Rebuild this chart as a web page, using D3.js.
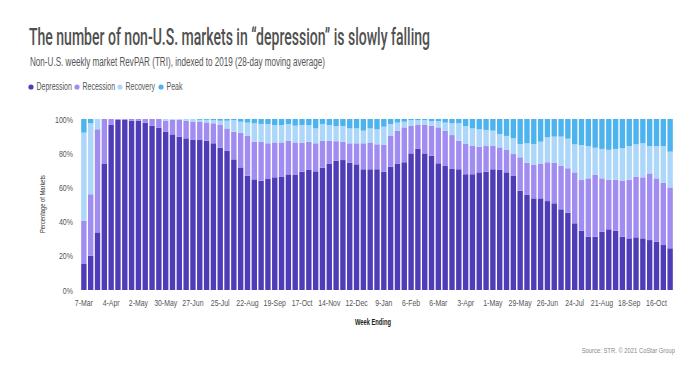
<!DOCTYPE html>
<html><head><meta charset="utf-8">
<script src="https://cdn.jsdelivr.net/npm/d3@7"></script>
<style>
html,body{margin:0;padding:0;background:#fff;}
svg{display:block;}
text{font-family:"Liberation Sans",Arial,sans-serif;}
</style></head>
<body><svg id="c" width="700" height="366"></svg>
<script>
const weeks = ["7-Mar","14-Mar","21-Mar","28-Mar","4-Apr","11-Apr","18-Apr","25-Apr","2-May","9-May","16-May","23-May","30-May","6-Jun","13-Jun","20-Jun","27-Jun","4-Jul","11-Jul","18-Jul","25-Jul","1-Aug","8-Aug","15-Aug","22-Aug","29-Aug","5-Sep","12-Sep","19-Sep","26-Sep","3-Oct","10-Oct","17-Oct","24-Oct","31-Oct","7-Nov","14-Nov","21-Nov","28-Nov","5-Dec","12-Dec","19-Dec","26-Dec",
"2-Jan","9-Jan","16-Jan","23-Jan","30-Jan","6-Feb","13-Feb","20-Feb","27-Feb","6-Mar","13-Mar","20-Mar","27-Mar","3-Apr","10-Apr","17-Apr","24-Apr","1-May","8-May","15-May","22-May","29-May","5-Jun","12-Jun","19-Jun","26-Jun","3-Jul","10-Jul","17-Jul","24-Jul","31-Jul","7-Aug","14-Aug","21-Aug","28-Aug","4-Sep","11-Sep","18-Sep","25-Sep","2-Oct","9-Oct","16-Oct","23-Oct","30-Oct"];
const tickLabels = ["7-Mar","4-Apr","2-May","30-May","27-Jun","25-Jul","22-Aug","19-Sep","17-Oct","14-Nov","12-Dec","9-Jan","6-Feb","6-Mar","3-Apr","1-May","29-May","26-Jun","24-Jul","21-Aug","18-Sep","16-Oct"];
const seriesNames = ["Depression","Recession","Recovery","Peak"];
const depression = [15.2,20.0,33.7,74.0,96.5,99.5,99.5,99.0,99.0,97.8,96.0,95.0,92.6,91.0,89.7,88.7,88.0,87.7,87.3,85.8,83.2,81.5,76.4,71.7,66.8,64.7,63.9,64.9,65.9,66.1,67.6,67.3,69.2,70.2,69.4,71.5,73.7,75.6,76.0,74.5,73.5,70.6,70.6,70.6,69.2,72.1,73.7,74.7,79.9,82.5,79.9,78.6,74.1,72.5,70.8,70.6,67.7,67.7,68.8,69.2,70.6,70.2,68.8,66.7,58.1,55.6,53.6,53.6,52.0,50.7,47.2,45.2,39.0,34.7,31.2,31.2,34.1,35.5,34.7,31.2,30.2,30.8,30.2,29.2,28.3,26.3,24.4];
const recession = [25.2,36.0,60.3,26.0,3.5,0.5,0.5,1.0,1.0,2.2,4.0,5.0,6.4,8.5,9.8,10.3,10.5,10.8,10.7,11.7,13.3,13.0,16.2,20.3,23.3,22.0,22.8,20.9,20.4,20.2,19.7,19.0,17.0,16.5,16.4,15.8,13.6,11.4,10.7,11.3,12.3,15.2,15.7,14.6,15.6,18.0,19.5,20.4,16.0,14.0,16.6,17.5,21.0,20.7,19.8,16.7,17.7,16.5,15.0,15.0,13.6,13.2,13.1,12.8,19.5,18.9,19.5,20.1,22.7,23.8,25.5,26.0,29.8,29.6,34.1,36.3,31.2,29.0,29.8,32.8,34.3,35.5,35.7,39.0,37.0,36.5,35.6];
const recovery = [51.6,41.5,6.0,0,0,0,0,0,0,0,0,0,1.0,0.5,0.5,1.0,1.5,1.0,1.5,1.9,2.5,4.5,6.8,6.4,7.8,10.8,10.4,11.3,10.2,10.2,9.8,9.8,10.3,9.8,8.7,9.8,9.2,8.9,9.2,8.7,8.7,7.4,8.2,8.8,10.7,7.0,4.7,3.3,3.5,2.9,2.9,2.7,3.7,4.7,6.9,10.2,10.5,10.3,10.2,9.4,9.0,7.8,8.2,9.2,7.8,11.3,12.3,13.0,14.6,15.2,17.0,17.3,16.4,20.5,18.9,15.7,17.2,17.5,18.0,19.0,19.7,18.9,19.9,16.0,18.9,21.4,20.9];
const peak = [8.0,2.5,0,0,0,0,0,0,0,0,0,0,0,0,0,0,0,0.5,0.5,0.6,1.0,1.0,0.6,1.6,2.1,2.5,2.9,2.9,3.5,3.5,2.9,3.9,3.5,3.5,5.5,2.9,3.5,4.1,4.1,5.5,5.5,6.8,5.5,6.0,4.5,2.9,2.1,1.6,0.6,0.6,0.6,1.2,1.2,2.1,2.5,2.5,4.1,5.5,6.0,6.4,6.8,8.8,9.9,11.3,14.6,14.2,14.6,13.3,10.7,10.3,10.3,11.5,14.8,15.2,15.8,16.8,17.5,18.0,17.5,17.0,15.8,14.8,14.2,15.8,15.8,15.8,19.1];
const yTicks = [0,20,40,60,80,100];
const colors = ["#4f3db8","#a18cf1","#acd7f9","#4db3ee"];

const svg = d3.select("#c");
// horizontally condense a text element around its anchor point using a transform
function squeeze(sel, f){
  sel.each(function(){
    const t = d3.select(this);
    const ax = +t.attr("x") || 0;
    const prev = t.attr("transform") || "";
    t.attr("transform", `${prev} translate(${ax},0) scale(${f},1) translate(${-ax},0)`);
  });
}
const rows = weeks.map((w,i)=>({i, Depression:depression[i], Recession:recession[i], Recovery:recovery[i], Peak:peak[i]}));
const stack = d3.stack().keys(seriesNames).offset(d3.stackOffsetExpand);
const layers = stack(rows);

const x = d3.scaleBand().domain(d3.range(weeks.length)).range([80.5,673.5]).paddingInner(0.21).paddingOuter(0.1);
const y = d3.scaleLinear().domain([0,1]).range([290,119]);
const color = d3.scaleOrdinal().domain(seriesNames).range(colors);

svg.append("g").selectAll("g").data(layers).join("g")
  .attr("fill", d=>color(d.key))
  .selectAll("rect").data(d=>d).join("rect")
  .attr("x", d=>x(d.data.i))
  .attr("width", x.bandwidth())
  .attr("y", d=>y(d[1]))
  .attr("height", d=>Math.max(0, y(d[0])-y(d[1])));

// Y axis labels
const yAxis = d3.axisLeft(y).tickValues(yTicks.map(v=>v/100)).tickFormat(d=>Math.round(d*100)+"%").tickSize(0).tickPadding(0);
const gy = svg.append("g").attr("transform","translate(73,0)").call(yAxis);
gy.select(".domain").remove();
gy.selectAll("text").attr("fill","#555").style("font-size","9.5px").style("font-family",'"Liberation Sans",Arial,sans-serif');
squeeze(gy.selectAll("text"), 0.74);

// X axis labels
const xAxis = d3.axisBottom(x).tickValues(tickLabels.map(l=>weeks.indexOf(l))).tickFormat(i=>weeks[i]).tickSize(0).tickPadding(0);
const gx = svg.append("g").attr("transform","translate(0,299)").call(xAxis);
gx.select(".domain").remove();
gx.selectAll("text").attr("fill","#555").style("font-size","9.5px").style("font-family",'"Liberation Sans",Arial,sans-serif');
squeeze(gx.selectAll("text"), 0.73);

// Titles
svg.append("text").attr("x",29).attr("y",45).text("The number of non-U.S. markets in “depression” is slowly falling")
  .attr("fill","#505050").style("font-size","23.5px").style("font-weight","500").style("font-family","Roboto,'Liberation Sans',sans-serif")
  .attr("textLength",401).attr("lengthAdjust","spacingAndGlyphs");
svg.append("text").attr("x",30).attr("y",66).text("Non-U.S. weekly market RevPAR (TRI), indexed to 2019 (28-day moving average)")
  .attr("fill","#555").style("font-size","12.5px")
  .attr("textLength",295).attr("lengthAdjust","spacingAndGlyphs");

// Legend
const legX = [31,77,120,161];
const lg = svg.append("g").selectAll("g").data(seriesNames).join("g")
  .attr("transform",(d,i)=>`translate(${legX[i]},87)`);
lg.append("circle").attr("r",2.6).attr("fill",d=>color(d));
const lt = lg.append("text").attr("x",5.5).attr("y",3.4).text(d=>d).attr("fill","#555").style("font-size","10px");
squeeze(lt, 0.7);

// Axis titles
svg.append("text").attr("transform","translate(45,204) rotate(-90)").attr("text-anchor","middle")
  .text("Percentage of Markets").attr("fill","#333").style("font-size","8px")
  .attr("textLength",58).attr("lengthAdjust","spacingAndGlyphs");
svg.append("text").attr("x",373).attr("y",325).attr("text-anchor","middle")
  .text("Week Ending").attr("fill","#222").style("font-size","8.5px").style("font-weight","bold")
  .attr("textLength",36).attr("lengthAdjust","spacingAndGlyphs");
const src = svg.append("text").attr("x",675).attr("y",353).attr("text-anchor","end")
  .text("Source: STR. © 2021 CoStar Group").attr("fill","#888").style("font-size","7.5px");
squeeze(src, 0.78);
</script></body></html>
